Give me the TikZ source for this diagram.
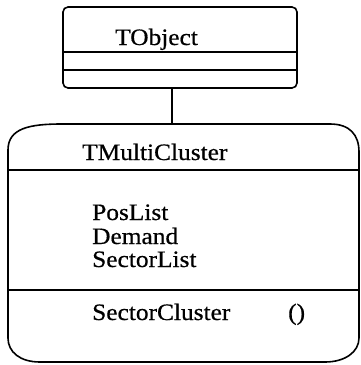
\documentclass[tikz,border=0pt]{standalone}
\usepackage{fontspec}
\setmainfont[FakeStretch=1.08,FakeBold=0.6]{Liberation Serif}
\begin{document}
\begin{tikzpicture}[x=1pt,y=-1pt,
  lbl/.style={anchor=base west,inner sep=0pt,font=\fontsize{23.5}{26}\selectfont},
  box/.style={draw,line width=1.6pt},
  sep/.style={draw,line width=1.4pt}]
\useasboundingbox (0,0) rectangle (360,365);
% TObject class
\draw[box,rounded corners=5pt] (63,7) rectangle (297,88);
\draw[sep] (63,52) -- (297,52);
\draw[sep] (63,70) -- (297,70);
\node[lbl] (tobj) at (115,45) {TObject};
\coordinate (tb) at (172,88);
% TMultiCluster class
\draw[box] (8,150) .. controls (8,128) and (30,124) .. (62,124) -- (330,124)
  .. controls (350,124) and (359,135) .. (359,152) -- (359,338)
  .. controls (359,352) and (345,362) .. (325,362) -- (40,362)
  .. controls (20,362) and (8,352) .. (8,338) -- cycle;
\coordinate (mt) at (172,124);
\draw[sep] (8,170) -- (359,170);
\draw[sep] (8,290) -- (359,290);
\node[lbl] (tmc) at (82,160) {TMultiCluster};
\node[lbl] (pos) at (92,220) {PosList};
\node[lbl] (dem) at (92,244) {Demand};
\node[lbl] (sec) at (92,267) {SectorList};
\node[lbl] (sc) at (92,320) {SectorCluster};
\node[lbl] (par) at (288,320) {()};
% inheritance link
\draw[sep] (tb) -- (mt);
\end{tikzpicture}
\end{document}
